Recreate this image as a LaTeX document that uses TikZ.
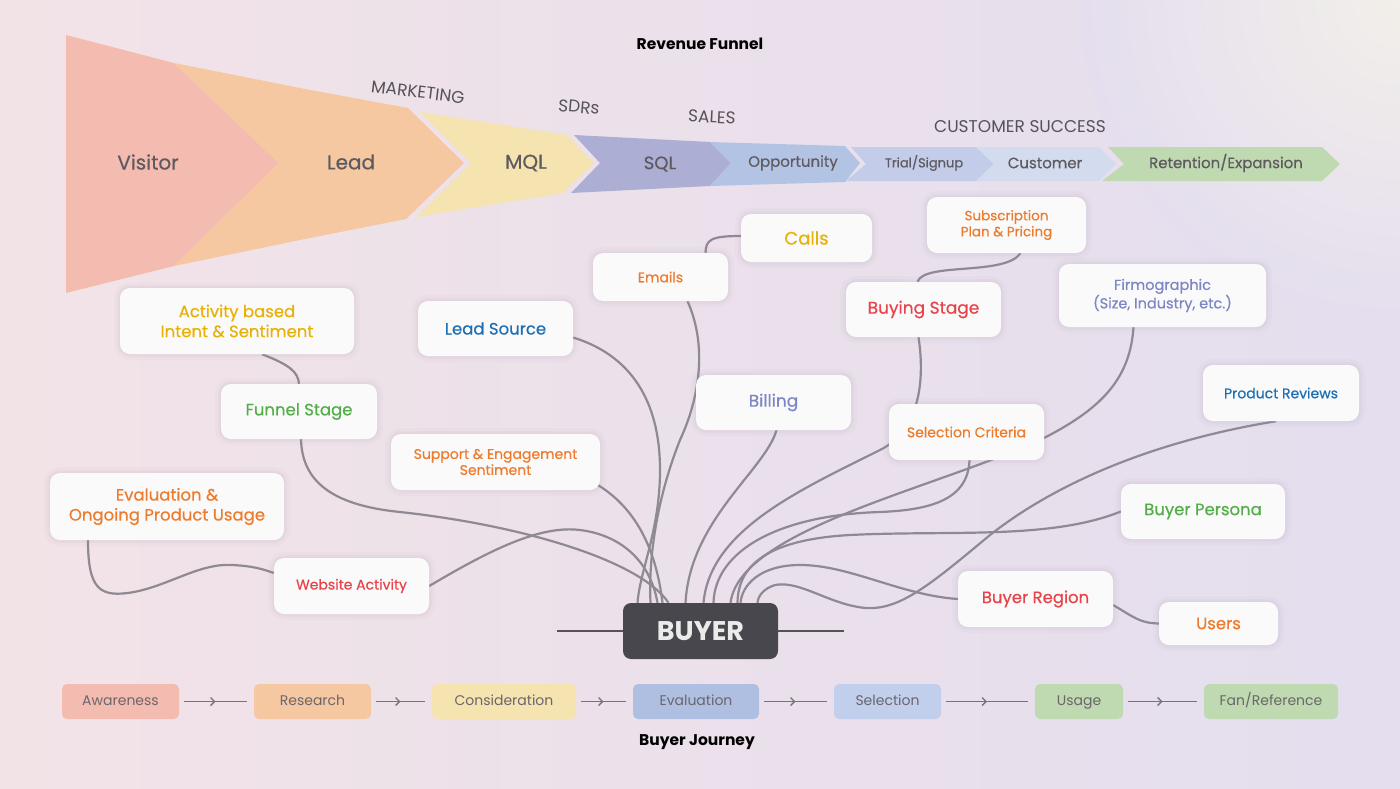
\documentclass[tikz,border=0pt]{standalone}
\usepackage{fontspec}
\setmainfont{Poppins}
\newfontfamily\medfont{Poppins}[FakeBold=0.5]
\usetikzlibrary{arrows.meta}
\usetikzlibrary{decorations.markings}
\usetikzlibrary{calc}
\usepackage{xcolor}

\definecolor{bgl}{HTML}{F2E3E7}
\definecolor{bgm}{HTML}{EEE0EB}
\definecolor{bgr}{HTML}{E4DEEE}
\definecolor{bgglow}{HTML}{F2EFEA}
\definecolor{visitorc}{HTML}{F4BCB0}
\definecolor{leadc}{HTML}{F5C8A2}
\definecolor{mqlc}{HTML}{F5E3B0}
\definecolor{sqlc}{HTML}{ADAED4}
\definecolor{oppc}{HTML}{B3C3E3}
\definecolor{trialc}{HTML}{C3CCE8}
\definecolor{custc}{HTML}{D3DCEE}
\definecolor{retc}{HTML}{BFDAB0}
\definecolor{evalc}{HTML}{AFBFE1}
\definecolor{selc}{HTML}{C1CEEC}
\definecolor{funtext}{HTML}{5E5A60}
\definecolor{teamtext}{HTML}{55525A}
\definecolor{stagetext}{HTML}{6A666C}
\definecolor{cardwhite}{HTML}{FAFAFA}
\definecolor{shadowc}{HTML}{9C8CA8}
\definecolor{linkgray}{HTML}{8E8993}
\definecolor{arrowgray}{HTML}{77737A}
\definecolor{cyellow}{HTML}{E8B10A}
\definecolor{corange}{HTML}{EE7B2C}
\definecolor{cred}{HTML}{E8434A}
\definecolor{cblue}{HTML}{1D6FB5}
\definecolor{cgreen}{HTML}{52AE46}
\definecolor{cperi}{HTML}{7D86C5}
\definecolor{buyerc}{HTML}{48474D}

\pgfdeclarelayer{bglayer}
\pgfdeclarelayer{linklayer}
\pgfsetlayers{bglayer,linklayer,main}

\tikzset{
  card/.style={fill=cardwhite, rounded corners=10pt, inner sep=0pt, align=center,
    preaction={draw=shadowc, draw opacity=0.04, line width=12pt},
    preaction={draw=shadowc, draw opacity=0.05, line width=6pt},
    preaction={draw=shadowc, draw opacity=0.05, line width=2.5pt}},
  link/.style={draw=linkgray, line width=2.2pt},
  stagebox/.style={rounded corners=5pt, inner sep=0pt, minimum height=35pt, text=stagetext,
    text height=10pt, text depth=3pt, font=\fontsize{14}{16}\selectfont},
  jarrow/.style={draw=arrowgray, line width=1.6pt,
    decoration={markings, mark=at position 0.5 with {\arrow{Straight Barb[length=4pt,width=8pt,line width=1.4pt]}}},
    postaction=decorate},
  funlabel/.style={text=funtext},
  teamlabel/.style={text=teamtext, font=\fontsize{17}{20}\selectfont},
  titlelabel/.style={font=\bfseries\fontsize{15.5}{18}\selectfont},
}

\begin{document}
\begin{tikzpicture}[x=1pt,y=1pt,yscale=-1,xscale=1]
\useasboundingbox (0,0) rectangle (1400,788);

%Shape: Background
\begin{pgfonlayer}{bglayer}
\shade[left color=bgl, middle color=bgm, right color=bgr] (0,0) rectangle (1400,788);
\begin{scope}
\clip (0,0) rectangle (1400,788);
\shade[inner color=bgglow, outer color=bgr] (1400,0) circle (320);
\end{scope}
\end{pgfonlayer}

%Shape: Funnel Visitor
\fill[visitorc] (66,35) -- (174,63) -- (279,163) -- (174,266) -- (66,293) -- cycle;
%Shape: Funnel Lead
\fill[leadc] (174,63) -- (300,88) -- (408,108) -- (464,163) -- (406,219) -- (300,240) -- (174,266) -- (279,163) -- cycle;
%Shape: Funnel MQL
\fill[mqlc] (420,112) -- (567,135) -- (594,163) -- (563,193) -- (416,217) -- (471,163) -- cycle;
%Shape: Funnel SQL
\fill[sqlc] (574,135) -- (710,142) -- (731,163) -- (710,186) -- (571,193) -- (600,163) -- cycle;
%Shape: Funnel Opportunity
\fill[oppc] (710,142) -- (845,146) -- (860,163) -- (845,182) -- (710,186) -- (731,163) -- cycle;
%Shape: Funnel Trial
\fill[trialc] (851,147) -- (976,147) -- (994,164) -- (976,181) -- (846,181) -- (866,164) -- cycle;
%Shape: Funnel Customer
\fill[custc] (976,147) -- (1099,147) -- (1116,164) -- (1099,181) -- (976,181) -- (994,164) -- cycle;
%Shape: Funnel Retention
\fill[retc] (1108,147) -- (1322,147) -- (1340,164) -- (1322,181) -- (1102,181) -- (1124,164) -- cycle;

% Text Node
\node[titlelabel] (revtitle) at (700,44) {Revenue Funnel};
% Text Node
\node[teamlabel, rotate=-7] (marketing) at (418,92) {MARKETING};
\node[teamlabel, rotate=-5] (sdrs) at (579,107) {SDRs};
\node[teamlabel, rotate=-3] (sales) at (712,117) {SALES};
\node[teamlabel] (cs) at (1020,127) {CUSTOMER SUCCESS};
% Text Node
\node[funlabel, font=\medfont\fontsize{20}{22}\selectfont] (visitor) at (148,162) {Visitor};
\node[funlabel, font=\medfont\fontsize{20}{22}\selectfont] (lead) at (351,162) {Lead};
\node[funlabel, font=\medfont\fontsize{20}{22}\selectfont] (mql) at (526,163) {MQL};
\node[funlabel, font=\medfont\fontsize{18}{20}\selectfont] (sql) at (660,164) {SQL};
\node[funlabel, font=\medfont\fontsize{15}{18}\selectfont] (opp) at (793,163) {Opportunity};
\node[funlabel, font=\medfont\fontsize{13}{16}\selectfont] (trial) at (924,163) {Trial/Signup};
\node[funlabel, font=\medfont\fontsize{15}{18}\selectfont] (cust) at (1045,163) {Customer};
\node[funlabel, font=\medfont\fontsize{15}{18}\selectfont] (ret) at (1226,163) {Retention/Expansion};

%Shape: Buyer box and its side lines
\node[fill=buyerc, rounded corners=8pt, minimum width=155pt, minimum height=56pt, inner sep=0pt,
  text=white!92!black, font=\bfseries\fontsize{27}{30}\selectfont] (buyer) at (700.5,631) {BUYER};
\draw[teamtext, line width=1.2pt] (buyer.west) -- ++(-66,0);
\draw[teamtext, line width=1.2pt] (buyer.east) -- ++(66,0);

%Shape: Cards
\node[card, minimum width=131pt, minimum height=48pt, text=cyellow, font=\medfont\fontsize{18}{21}\selectfont] (calls) at (806.5,238) {Calls};
\node[card, minimum width=135pt, minimum height=48pt, text=corange, font=\medfont\fontsize{14}{17}\selectfont] (emails) at (660.5,277) {Emails};
\node[card, minimum width=159pt, minimum height=56pt, text=corange, font=\medfont\fontsize{13.5}{16}\selectfont] (subscr) at (1006.5,225) {Subscription\\Plan \& Pricing};
\node[card, minimum width=155pt, minimum height=55pt, text=cred, font=\medfont\fontsize{17}{20}\selectfont] (buystage) at (923.5,309.5) {Buying Stage};
\node[card, minimum width=207pt, minimum height=63pt, text=cperi, font=\medfont\fontsize{14.5}{17}\selectfont] (firmo) at (1162.5,295.5) {Firmographic\\(Size, Industry, etc.)};
\node[card, minimum width=234pt, minimum height=66pt, text=cyellow, font=\medfont\fontsize{16.5}{20}\selectfont] (activity) at (237,321) {Activity based\\Intent \& Sentiment};
\node[card, minimum width=155pt, minimum height=55pt, text=cblue, font=\medfont\fontsize{16.5}{19}\selectfont] (leadsrc) at (495.5,328.5) {Lead Source};
\node[card, minimum width=155pt, minimum height=55pt, text=cperi, font=\medfont\fontsize{17}{19}\selectfont] (billing) at (773.5,402.5) {Billing};
\node[card, minimum width=156pt, minimum height=56pt, text=cblue, font=\medfont\fontsize{14}{17}\selectfont] (reviews) at (1281,393) {Product Reviews};
\node[card, minimum width=156pt, minimum height=55pt, text=cgreen, font=\medfont\fontsize{16.5}{19}\selectfont] (funnel) at (299,411.5) {Funnel Stage};
\node[card, minimum width=155pt, minimum height=56pt, text=corange, font=\medfont\fontsize{14}{17}\selectfont] (selcrit) at (966.5,432) {Selection Criteria};
\node[card, minimum width=209pt, minimum height=56pt, text=corange, font=\medfont\fontsize{14}{16}\selectfont] (support) at (495.5,462) {Support \& Engagement\\Sentiment};
\node[card, minimum width=234pt, minimum height=67pt, text=corange, font=\medfont\fontsize{16.5}{20}\selectfont] (evalusage) at (167,506.5) {Evaluation \&\\Ongoing Product Usage};
\node[card, minimum width=164pt, minimum height=55pt, text=cgreen, font=\medfont\fontsize{16.5}{19}\selectfont] (persona) at (1203,511.5) {Buyer Persona};
\node[card, minimum width=155pt, minimum height=56pt, text=cred, font=\medfont\fontsize{14}{16}\selectfont] (website) at (351.5,586) {Website Activity};
\node[card, minimum width=155pt, minimum height=56pt, text=cred, font=\medfont\fontsize{16.5}{19}\selectfont] (region) at (1035.5,599) {Buyer Region};
\node[card, minimum width=119pt, minimum height=43pt, text=corange, font=\medfont\fontsize{16.5}{18}\selectfont] (users) at (1218.5,623.5) {Users};

%Curves: links between cards (behind the cards)
\begin{pgfonlayer}{linklayer}
\draw[link] ($(emails.north)+(45,0)$) .. controls (706,240) and (710,236) .. ($(calls.west)+(0,-2)$);
\draw[link] ($(buystage.north)+(-6,0)$) .. controls (924,262) and (1005,276) .. ($(subscr.south)+(14,0)$);
\draw[link] ($(activity.south)+(25,0)$) .. controls (290,365) and (298,372) .. (funnel.north);
\draw[link] ($(evalusage.south)+(-79,0)$) .. controls (88,590) and (100,598) .. (134,592) .. controls (170,585) and (200,563) .. (232,565) .. controls (255,566) and (265,570) .. ($(website.west)+(0,-13)$);
\draw[link] ($(region.east)+(0,6)$) .. controls (1135,618) and (1140,623) .. (users.west);
%to buyer
\draw[link] ($(leadsrc.east)+(0,9)$) .. controls (630,355) and (660,400) .. (660,470) .. controls (660,530) and (640,570) .. ($(buyer.north)+(-63,0)$);
\draw[link] ($(emails.south)+(27,0)$) .. controls (705,340) and (703,390) .. (680,440) .. controls (660,490) and (648,550) .. ($(buyer.north)+(-50,0)$);
\draw[link] ($(funnel.south)+(2,0)$) .. controls (302,480) and (330,505) .. (400,512) .. controls (520,525) and (640,560) .. ($(buyer.north)+(-32,0)$);
\draw[link] (website.east) .. controls (490,550) and (540,525) .. (580,530) .. controls (620,535) and (650,560) .. ($(buyer.north)+(-43,0)$);
\draw[link] ($(support.south east)+(-2,-5)$) .. controls (630,505) and (655,540) .. ($(buyer.north)+(-38,0)$);
\draw[link] ($(billing.south)+(3,0)$) .. controls (765,470) and (690,520) .. ($(buyer.north)+(-15,0)$);
\draw[link] ($(buystage.south)+(-5,0)$) .. controls (925,380) and (920,430) .. (880,450) .. controls (800,490) and (710,530) .. ($(buyer.north)+(3,0)$);
\draw[link] ($(selcrit.south)+(3,0)$) .. controls (968,500) and (930,510) .. (880,512) .. controls (780,515) and (715,550) .. ($(buyer.north)+(13,0)$);
\draw[link] ($(firmo.south)+(-29,0)$) .. controls (1130,380) and (1100,410) .. (1040,440) .. controls (930,490) and (740,530) .. ($(buyer.north)+(30,0)$);
\draw[link] (persona.west) .. controls (1050,540) and (950,530) .. (850,535) .. controls (760,540) and (738,570) .. ($(buyer.north)+(37,0)$);
\draw[link] (region.west) .. controls (900,595) and (850,565) .. (800,565) .. controls (760,565) and (742,585) .. ($(buyer.north)+(40,0)$);
\draw[link] ($(reviews.south)+(-5,0)$) .. controls (1160,440) and (1060,480) .. (990,535) .. controls (930,585) and (900,610) .. (866,608) .. controls (830,605) and (800,580) .. (775,585) .. controls (765,588) and (758,595) .. ($(buyer.north)+(57,0)$);
\end{pgfonlayer}

% Text Node
\node[titlelabel] (jtitle) at (697,742) {Buyer Journey};

%Shape: Journey stages
\node[stagebox, fill=visitorc, minimum width=117pt] (awareness) at (120.5,701.5) {Awareness};
\node[stagebox, fill=leadc, minimum width=117pt] (research) at (312.5,701.5) {Research};
\node[stagebox, fill=mqlc, minimum width=144pt] (consider) at (504,701.5) {Consideration};
\node[stagebox, fill=evalc, minimum width=126pt] (evaluation) at (696,701.5) {Evaluation};
\node[stagebox, fill=selc, minimum width=107pt] (selection) at (887.5,701.5) {Selection};
\node[stagebox, fill=retc, minimum width=88pt] (usage) at (1079,701.5) {Usage};
\node[stagebox, fill=retc, minimum width=134pt] (fanref) at (1271,701.5) {Fan/Reference};

%Straight Lines: journey arrows
\draw[jarrow] ($(awareness.east)+(5,0)$) -- ($(research.west)+(-7,0)$);
\draw[jarrow] ($(research.east)+(5,0)$) -- ($(consider.west)+(-7,0)$);
\draw[jarrow] ($(consider.east)+(5,0)$) -- ($(evaluation.west)+(-7,0)$);
\draw[jarrow] ($(evaluation.east)+(5,0)$) -- ($(selection.west)+(-7,0)$);
\draw[jarrow] ($(selection.east)+(5,0)$) -- ($(usage.west)+(-7,0)$);
\draw[jarrow] ($(usage.east)+(5,0)$) -- ($(fanref.west)+(-7,0)$);

\end{tikzpicture}
\end{document}
